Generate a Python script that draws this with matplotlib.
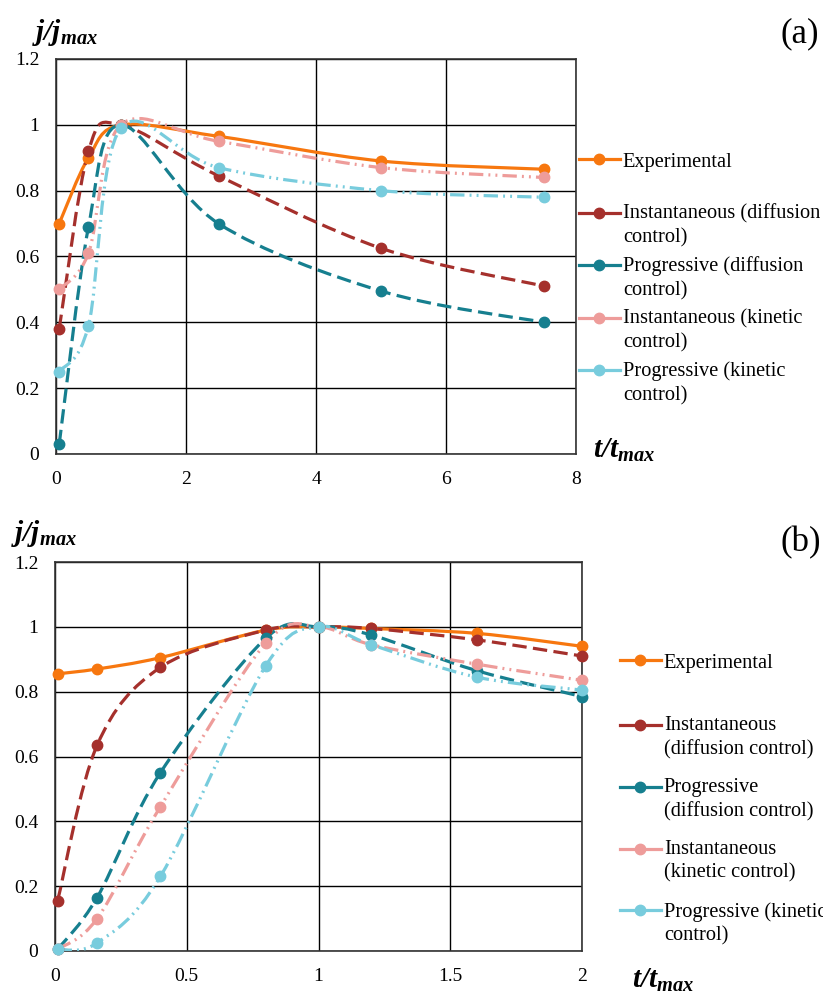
import numpy as np
import matplotlib
matplotlib.use('Agg')
import matplotlib.pyplot as plt
from matplotlib.path import Path
from matplotlib.patches import PathPatch
from matplotlib.lines import Line2D

plt.rcParams['font.family'] = ['Liberation Serif', 'DejaVu Serif']
plt.rcParams['mathtext.fontset'] = 'custom'
plt.rcParams['mathtext.bf'] = 'Liberation Serif:bold:italic'
plt.rcParams['mathtext.rm'] = 'Liberation Serif'
plt.rcParams['mathtext.it'] = 'Liberation Serif:italic'

# ---------------- data: panel (a) ----------------
t_a = [0.05, 0.5, 1.0, 2.5, 5.0, 7.5]
exp_a = [0.70, 0.90, 1.00, 0.965, 0.89, 0.865]
inst_diff_a = [0.38, 0.92, 1.00, 0.845, 0.625, 0.51]
prog_diff_a = [0.03, 0.69, 1.00, 0.70, 0.495, 0.40]
inst_kin_a = [0.50, 0.61, 1.00, 0.95, 0.87, 0.84]
prog_kin_a = [0.25, 0.39, 0.99, 0.87, 0.80, 0.78]

# ---------------- data: panel (b) ----------------
t_b = [0.01, 0.16, 0.40, 0.80, 1.00, 1.20, 1.60, 2.00]
exp_b = [0.855, 0.87, 0.905, 0.99, 1.00, 0.995, 0.98, 0.94]
inst_diff_b = [0.155, 0.635, 0.875, 0.99, 1.00, 0.995, 0.96, 0.91]
prog_diff_b = [0.005, 0.165, 0.55, 0.965, 1.00, 0.975, 0.865, 0.785]
inst_kin_b = [0.005, 0.10, 0.445, 0.95, 1.00, 0.945, 0.885, 0.835]
prog_kin_b = [0.005, 0.025, 0.23, 0.88, 1.00, 0.945, 0.845, 0.805]

labels_a = ['Experimental', 'Instantaneous (diffusion\ncontrol)',
            'Progressive (diffusion\ncontrol)', 'Instantaneous (kinetic\ncontrol)',
            'Progressive (kinetic\ncontrol)']
labels_b = ['Experimental', 'Instantaneous\n(diffusion control)',
            'Progressive\n(diffusion control)', 'Instantaneous\n(kinetic control)',
            'Progressive (kinetic\ncontrol)']

xticks_a = [0, 2, 4, 6, 8]
xticklabels_a = ['0', '2', '4', '6', '8']
xticks_b = [0, 0.5, 1, 1.5, 2]
xticklabels_b = ['0', '0.5', '1', '1.5', '2']
yticks = [0, 0.2, 0.4, 0.6, 0.8, 1.0, 1.2]
yticklabels = ['0', '0.2', '0.4', '0.6', '0.8', '1', '1.2']

colors = ['#F7770F', '#A5302C', '#167F8F', '#EE9C9A', '#78CCDD']
dash_long = (0, (4.5, 2.0))
dash_dd = (0, (4.5, 1.6, 0.6, 1.6, 0.6, 1.6))
styles = ['-', dash_long, dash_long, dash_dd, dash_dd]


def smooth_path(x, y):
    pts = np.column_stack([np.asarray(x, float), np.asarray(y, float)])
    n = len(pts)
    verts = [pts[0]]
    codes = [Path.MOVETO]
    for i in range(n - 1):
        p0 = pts[i - 1] if i > 0 else pts[i]
        p1 = pts[i]
        p2 = pts[i + 1]
        p3 = pts[i + 2] if i + 2 < n else pts[i + 1]
        c1 = p1 + (p2 - p0) / 6.0
        c2 = p2 - (p3 - p1) / 6.0
        verts += [c1, c2, p2]
        codes += [Path.CURVE4] * 3
    return Path(verts, codes)


fig = plt.figure(figsize=(8.23, 9.96), dpi=100)
ax_a = fig.add_axes([0.068, 0.5442, 0.632, 0.3966])
ax_b = fig.add_axes([0.0668, 0.0452, 0.6404, 0.3905])


def draw_panel(ax, t, series, xlim, xticks, xticklabels, labels,
               leg_x, exp_y, rest_top, spacing):
    order = [1, 2, 3, 4, 0]
    for k in order:
        y = series[k]
        patch = PathPatch(smooth_path(t, y), facecolor='none', edgecolor=colors[k],
                          lw=2.3, linestyle=styles[k], capstyle='butt', zorder=3 + k * 0.1)
        ax.add_patch(patch)
        ax.plot(t, y, linestyle='none', marker='o', ms=7.5, color=colors[k],
                zorder=4 + k * 0.1, clip_on=False)
    ax.set_xlim(*xlim)
    ax.set_ylim(0, 1.2)
    ax.set_xticks(xticks)
    ax.set_xticklabels(xticklabels)
    ax.set_yticks(yticks)
    ax.set_yticklabels(yticklabels)
    ax.tick_params(length=0, labelsize=14, pad=12)
    ax.grid(True, color='black', lw=1.0)
    ax.set_axisbelow(True)
    for s in ax.spines.values():
        s.set_color('#333333')
        s.set_linewidth(1.2)

    handles = [Line2D([], [], color=colors[k], lw=2.3, marker='o', ms=7.5)
               for k in range(5)]
    leg1 = ax.legend(handles=handles[:1], labels=labels[:1], loc='center left',
                     bbox_to_anchor=(leg_x, exp_y), bbox_transform=fig.transFigure,
                     frameon=False, fontsize=14.7, borderpad=0, borderaxespad=0,
                     handlelength=2.0, handletextpad=0.15)
    ax.add_artist(leg1)
    leg2 = ax.legend(handles=handles[1:], labels=labels[1:], loc='upper left',
                     bbox_to_anchor=(leg_x, rest_top), bbox_transform=fig.transFigure,
                     frameon=False, fontsize=14.7, borderpad=0, borderaxespad=0,
                     handlelength=2.0, handletextpad=0.15, labelspacing=spacing,
                     handleheight=1.15)
    for txt in leg2.get_texts():
        txt.set_linespacing(1.32)
    for col in leg2._legend_handle_box.get_children():
        for item in col.get_children():
            item.align = 'top'


draw_panel(ax_a, t_a, [exp_a, inst_diff_a, prog_diff_a, inst_kin_a, prog_kin_a],
           (0, 8), xticks_a, xticklabels_a, labels_a,
           579 / 823, 1 - 162 / 996, 1 - 204 / 996, 0.45)
draw_panel(ax_b, t_b, [exp_b, inst_diff_b, prog_diff_b, inst_kin_b, prog_kin_b],
           (0, 2), xticks_b, xticklabels_b, labels_b,
           620 / 823, 1 - 663 / 996, 1 - 716 / 996, 0.93)

ylab = r'$\mathbf{j/j_{max}}$'
xlab = r'$\mathbf{t/t_{max}}$'
fig.text(32 / 823, 1 - 40 / 996, ylab, fontsize=21, va='baseline', ha='left')
fig.text(593 / 823, 1 - 458 / 996, xlab, fontsize=21, va='baseline', ha='left')
fig.text(11 / 823, 1 - 541 / 996, ylab, fontsize=21, va='baseline', ha='left')
fig.text(632 / 823, 1 - 988 / 996, xlab, fontsize=21, va='baseline', ha='left')
fig.text(800 / 823, 1 - 34 / 996, '(a)', fontsize=25, va='center', ha='center')
fig.text(801 / 823, 1 - 543 / 996, '(b)', fontsize=25, va='center', ha='center')

fig.savefig('out.png', dpi=100)
